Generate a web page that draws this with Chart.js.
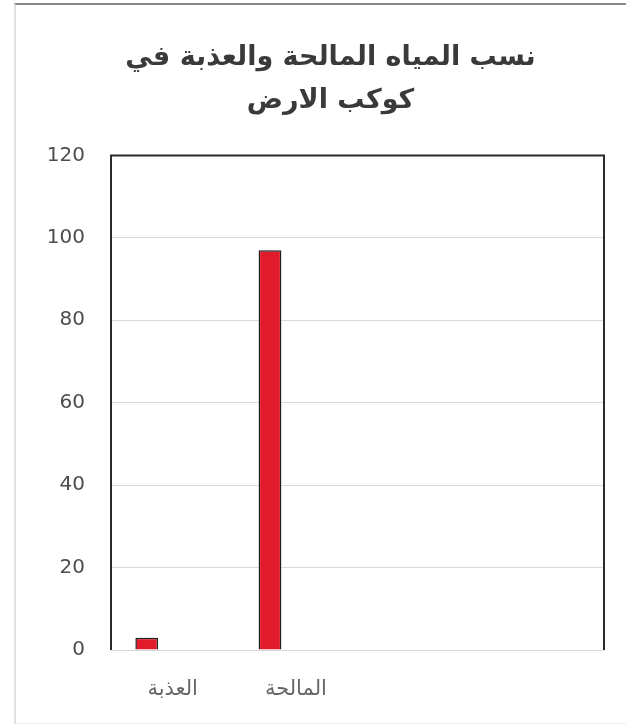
<!DOCTYPE html>
<html>
<head>
<meta charset="utf-8">
<script src="https://cdn.jsdelivr.net/npm/chart.js@4"></script>
<style>
  html, body { margin: 0; padding: 0; background: #fff; }
  #frame {
    position: absolute; left: 14px; top: 3px; width: 612px; height: 718px;
    border-top: 2px solid #8a8a8a; border-left: 2px solid #e0e0e0; border-bottom: 1px solid #eee;
  }
  #wrap { position: absolute; left: 2px; top: 3px; width: 608px; height: 714px; }
</style>
</head>
<body>
<div id="frame"><div id="wrap"><canvas id="waterChart"></canvas></div></div>
<script>
// chart data
const titleLines = ['نسب المياه المالحة والعذبة في', 'كوكب الارض'];
const categories = ['العذبة', 'المالحة', '', ''];
const series1 = [3, 97, null, null];
const series2 = [null, null, null, null];
const series3 = [null, null, null, null];
const yTicks = [0, 20, 40, 60, 80, 100, 120];

// dark frame on top, left and right of the plot (like the excel chart)
const plotFrame = {
    id: 'plotFrame',
    afterLayout(chart) {
        // excel centres the title over the whole picture, nudge it right a bit
        if (chart.titleBlock) {
            chart.titleBlock.left += 6;
            chart.titleBlock.right += 6;
        }
    },
    afterDraw(chart) {
        const a = chart.chartArea;
        const c = chart.ctx;
        c.save();
        c.strokeStyle = '#2b2b2b';
        c.lineWidth = 2;
        c.beginPath();
        c.moveTo(a.left, a.bottom);
        c.lineTo(a.left, a.top);
        c.lineTo(a.right, a.top);
        c.lineTo(a.right, a.bottom);
        c.stroke();
        c.restore();
    }
};

const ctx = document.getElementById('waterChart').getContext('2d');
new Chart(ctx, {
    type: 'bar',
    data: {
        labels: categories,
        datasets: [
            { label: 'Series1', data: series1, backgroundColor: '#e21b2c', borderColor: '#1e1e1e', borderWidth: 1.5 },
            { label: 'Series2', data: series2, backgroundColor: '#e21b2c' },
            { label: 'Series3', data: series3, backgroundColor: '#e21b2c' },
        ],
    },
    options: {
        responsive: true,
        maintainAspectRatio: false,
        animation: false,
        categoryPercentage: 0.63,
        barPercentage: 0.88,
        layout: { padding: { left: 27, right: 22, top: 13, bottom: 0 } },
        plugins: {
            legend: { display: false },
            tooltip: { enabled: false },
            title: {
                display: true,
                text: titleLines,
                color: '#3a3a3a',
                font: { family: 'DejaVu Sans', size: 27, weight: 'bold', lineHeight: 1.6 },
                padding: { top: 15, bottom: 33 },
            },
        },
        scales: {
            x: {
                afterFit: axis => { axis.height = 72; },
                grid: { display: false, drawTicks: false },
                border: { display: false },
                ticks: { color: '#666', font: { family: 'DejaVu Sans', size: 21 }, padding: 27 },
            },
            y: {
                min: 0,
                max: 120,
                afterBuildTicks: axis => { axis.ticks = yTicks.map(v => ({ value: v })); },
                afterFit: axis => { axis.width = 66; },
                grid: { color: '#d9d9d9', lineWidth: 1, drawTicks: false },
                border: { display: false },
                ticks: { color: '#4d4d4d', font: { family: 'DejaVu Sans', size: 20 }, padding: 26 },
            },
        },
    },
    plugins: [plotFrame],
});
</script>
</body>
</html>
